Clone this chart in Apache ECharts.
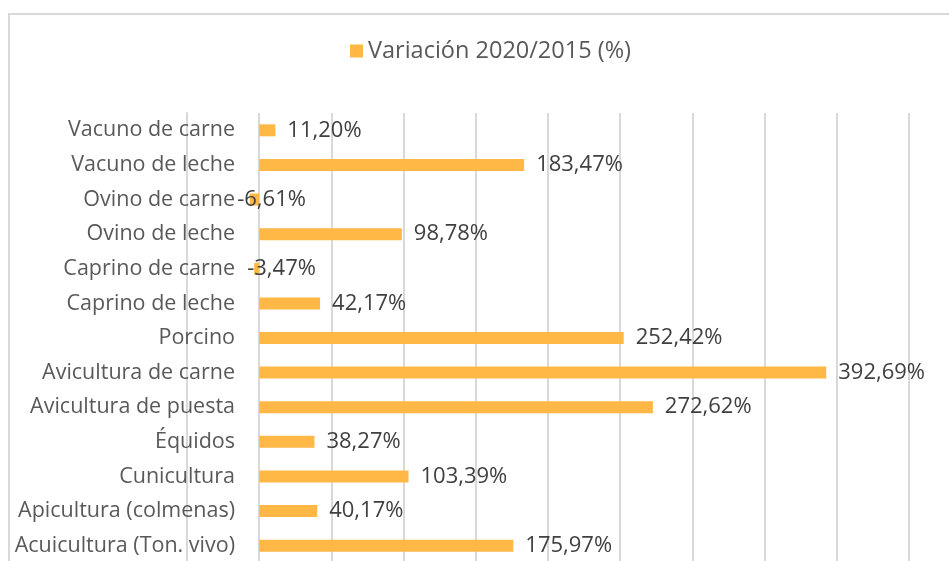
<!DOCTYPE html>
<html>
<head>
<meta charset="utf-8">
<title>Variación 2020/2015</title>
<script src="https://cdn.jsdelivr.net/npm/echarts@6/dist/echarts.min.js"></script>
<style>
  html, body { margin: 0; padding: 0; background: #fff; }
  #chart { width: 949px; height: 561px; }
</style>
</head>
<body>
<div id="chart"></div>
<script>
// categorias de arriba a abajo
const categories = [
  'Vacuno de carne', 'Vacuno de leche', 'Ovino de carne', 'Ovino de leche',
  'Caprino de carne', 'Caprino de leche', 'Porcino', 'Avicultura de carne',
  'Avicultura de puesta', 'Équidos', 'Cunicultura', 'Apicultura (colmenas)',
  'Acuicultura (Ton. vivo)'
]
const variacion = [11.20, 183.47, -6.61, 98.78, -3.47, 42.17, 252.42, 392.69, 272.62, 38.27, 103.39, 40.17, 175.97]
const seriesName = 'Variación 2020/2015 (%)'

const fontFamily = '"Open Sans", "Noto Sans", sans-serif'
const gridColor = '#d9d9d9'

let myChart = echarts.init(document.getElementById('chart'))
let option = {
  animation: false,
  textStyle: { fontFamily: fontFamily },
  color: ['#FFB845'],
  graphic: [{
    type: 'rect',
    shape: { x: 9, y: 14, width: 1000, height: 1000 },
    style: { fill: 'none', stroke: '#d9d9d9', lineWidth: 2 },
    silent: true
  }],
  legend: {
    data: [seriesName],
    left: 345,
    top: 34,
    icon: 'rect',
    itemWidth: 13,
    itemHeight: 13,
    textStyle: { fontSize: 23.5, color: '#595959', fontFamily: fontFamily }
  },
  grid: {
    left: 187,
    right: 40,
    top: 113,
    height: 450,
    outerBoundsMode: 'none',
    containLabel: false
  },
  xAxis: {
    type: 'value',
    min: -50,
    max: 450,
    interval: 50,
    axisLabel: { show: false },
    axisLine: { show: false },
    axisTick: { show: false },
    splitLine: { show: true, showMinLine: true, showMaxLine: true, lineStyle: { color: gridColor, width: 2 } }
  },
  yAxis: [{
    // linea de -50 (borde izquierdo), detras de las etiquetas
    type: 'category',
    position: 'left',
    inverse: true,
    data: categories,
    axisLine: { show: true, onZero: false, lineStyle: { color: gridColor, width: 2 } },
    axisTick: { show: false },
    axisLabel: { show: false }
  }, {
    type: 'category',
    position: 'left',
    inverse: true,
    data: categories,
    // las etiquetas van junto al cero, no en el borde del grid
    offset: -72,
    axisLine: { show: false, onZero: false },
    axisTick: { show: false },
    axisLabel: { margin: 24, fontSize: 21.5, color: '#595959', fontFamily: fontFamily }
  }],
  series: [{
    name: seriesName,
    type: 'bar',
    yAxisIndex: 1,
    barWidth: 12,
    data: variacion.map(v => v < 0 ? { value: v, label: { distance: v < -5 ? -22 : -12 } } : v),
    label: {
      show: true,
      position: 'right',
      distance: 12,
      fontSize: 22,
      color: '#404040',
      fontFamily: fontFamily,
      formatter: p => p.value.toFixed(2).replace('.', ',') + '%'
    }
  }]
}
myChart.setOption(option)
window.addEventListener('resize', function () {
  myChart.resize()
})
</script>
</body>
</html>
